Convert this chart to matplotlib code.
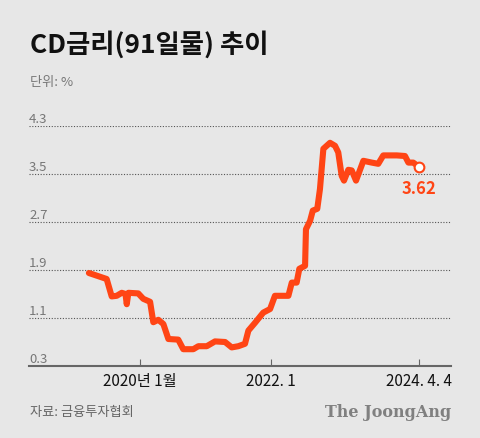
import numpy as np
import matplotlib
matplotlib.use("Agg")
import matplotlib.pyplot as plt
import matplotlib.transforms as mtrans

plt.rcParams['font.family'] = ['Noto Sans CJK KR', 'DejaVu Sans']

# CD rate (91-day)
dates = np.array([
    "2019-03-22", "2019-06-29", "2019-07-27", "2019-08-24", "2019-09-21",
    "2019-10-12", "2019-10-19", "2019-10-28", "2019-12-22", "2020-01-19",
    "2020-02-26", "2020-03-15", "2020-04-12", "2020-05-10", "2020-06-07",
    "2020-08-01", "2020-08-29", "2020-10-24", "2020-11-21", "2021-01-07",
    "2021-02-22", "2021-04-19", "2021-05-26", "2021-07-02", "2021-08-08",
    "2021-08-27", "2021-10-03", "2021-11-18", "2021-12-26", "2022-01-22",
    "2022-04-07", "2022-04-26", "2022-05-23", "2022-06-07", "2022-07-09",
    "2022-07-14", "2022-08-06", "2022-08-21", "2022-09-15", "2022-09-30",
    "2022-10-19", "2022-11-25", "2022-12-23", "2023-01-10", "2023-01-29",
    "2023-02-11", "2023-03-07", "2023-03-26", "2023-04-19", "2023-05-30",
    "2023-07-16", "2023-08-21", "2023-09-18", "2023-10-26", "2023-12-02",
    "2024-01-17", "2024-02-05", "2024-03-03", "2024-04-04",
], dtype="datetime64[D]")
rates = [
    1.85, 1.75, 1.46, 1.47, 1.52,
    1.50, 1.33, 1.52, 1.51, 1.42,
    1.37, 1.03, 1.07, 1.00, 0.75,
    0.74, 0.58, 0.58, 0.63, 0.63,
    0.71, 0.70, 0.61, 0.63, 0.67,
    0.89, 1.02, 1.19, 1.25, 1.47,
    1.47, 1.69, 1.69, 1.92, 1.97,
    2.58, 2.72, 2.89, 2.92, 3.25,
    3.92, 4.02, 3.97, 3.86, 3.47,
    3.39, 3.57, 3.56, 3.39, 3.72,
    3.69, 3.67, 3.81, 3.81, 3.81,
    3.80, 3.69, 3.69, 3.62,
]
y_ticks = [0.3, 1.1, 1.9, 2.7, 3.5, 4.3]
x_ticks = np.array(["2020-01-01", "2022-01-01", "2024-04-04"], dtype="datetime64[D]")
x_labels = ["2020년 1월", "2022. 1", "2024. 4. 4"]

bg = "#e7e7e7"
red = "#ff4515"

fig = plt.figure(figsize=(4.8, 4.39), dpi=100, facecolor=bg)
ax = fig.add_axes([0.0604, 0.164, 0.879, 0.5467])
ax.set_facecolor(bg)

ax.set_xlim(np.datetime64("2018-04-22"), np.datetime64("2024-09-29"))
ax.set_ylim(0.3, 4.3)

for v in y_ticks[1:]:
    ax.axhline(v, color="#555555", lw=0.8, ls=(0, (1, 1.5)), zorder=1)
trans = mtrans.blended_transform_factory(ax.transAxes, ax.transData)
for v in y_ticks:
    ax.text(0.0, v + 0.02, f"{v:.1f}", transform=trans, ha="left", va="bottom",
            fontsize=9.5, color="#777777")

ax.plot(dates, rates, color=red, lw=4.4, solid_joinstyle="round",
        solid_capstyle="round", zorder=3)
ax.plot(dates[-1], rates[-1], "o", ms=7, mfc="white", mec=red, mew=1.5, zorder=4)
ax.annotate(f"{rates[-1]:.2f}", (dates[-1], rates[-1]), xytext=(0, -9),
            textcoords="offset points", ha="center", va="top",
            fontsize=12, fontweight="bold", color=red)

for s in ["top", "right", "left"]:
    ax.spines[s].set_visible(False)
ax.spines["bottom"].set_color("#666666")
ax.spines["bottom"].set_linewidth(1.5)
ax.set_yticks([])
ax.set_xticks(x_ticks)
ax.set_xticklabels(x_labels)
ax.tick_params(axis="x", direction="in", length=5, width=0.8, color="#666666",
               labelsize=11, labelcolor="#111111", pad=4)

fig.text(0.0625, 0.898, "CD금리(91일물) 추이", fontsize=19, fontweight="bold",
         color="#111111", va="center", ha="left")
fig.text(0.0625, 0.813, "단위: %", fontsize=9.5, color="#777777",
         va="center", ha="left")
fig.text(0.0625, 0.06, "자료: 금융투자협회", fontsize=9.5, color="#666666",
         va="center", ha="left")
fig.text(0.94, 0.06, "The JoongAng", fontsize=11.5, fontweight="bold",
         family="DejaVu Serif", color="#808080", va="center", ha="right")

fig.savefig("out.png", dpi=100, facecolor=bg)
